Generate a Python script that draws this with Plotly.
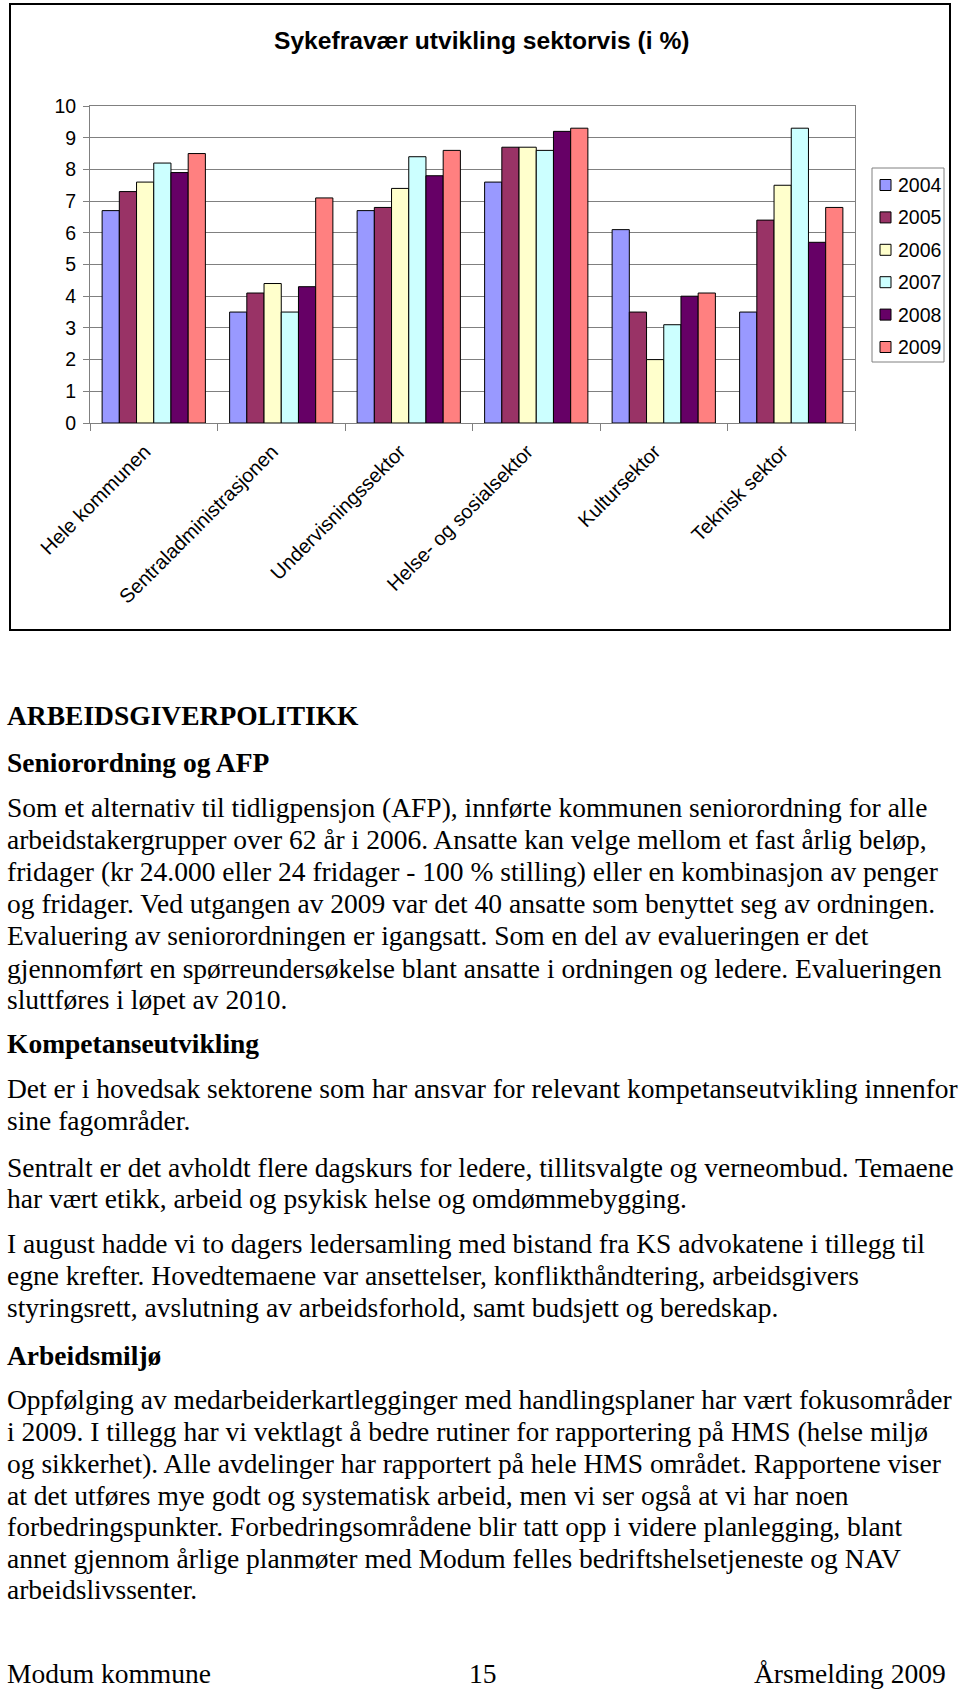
import plotly.graph_objects as go

# ---------------- data ----------------
categories = ["Hele kommunen", "Sentraladministrasjonen", "Undervisningssektor",
              "Helse- og sosialsektor", "Kultursektor", "Teknisk sektor"]
years = ["2004", "2005", "2006", "2007", "2008", "2009"]
v2004 = [6.7, 3.5, 6.7, 7.6, 6.1, 3.5]
v2005 = [7.3, 4.1, 6.8, 8.7, 3.5, 6.4]
v2006 = [7.6, 4.4, 7.4, 8.7, 2.0, 7.5]
v2007 = [8.2, 3.5, 8.4, 8.6, 3.1, 9.3]
v2008 = [7.9, 4.3, 7.8, 9.2, 4.0, 5.7]
v2009 = [8.5, 7.1, 8.6, 9.3, 4.1, 6.8]
series = [v2004, v2005, v2006, v2007, v2008, v2009]
y_ticks = list(range(0, 11))

chart_title = "Sykefravær utvikling sektorvis (i %)"

body_lines = [
    ("ARBEIDSGIVERPOLITIKK", True),
    ("Seniorordning og AFP", True),
    ("Som et alternativ til tidligpensjon (AFP), innførte kommunen seniorordning for alle", False),
    ("arbeidstakergrupper over 62 år i 2006. Ansatte kan velge mellom et fast årlig beløp,", False),
    ("fridager (kr 24.000 eller 24 fridager - 100 % stilling) eller en kombinasjon av penger", False),
    ("og fridager. Ved utgangen av 2009 var det 40 ansatte som benyttet seg av ordningen.", False),
    ("Evaluering av seniorordningen er igangsatt. Som en del av evalueringen er det", False),
    ("gjennomført en spørreundersøkelse blant ansatte i ordningen og ledere. Evalueringen", False),
    ("sluttføres i løpet av 2010.", False),
    ("Kompetanseutvikling", True),
    ("Det er i hovedsak sektorene som har ansvar for relevant kompetanseutvikling innenfor", False),
    ("sine fagområder.", False),
    ("Sentralt er det avholdt flere dagskurs for ledere, tillitsvalgte og verneombud. Temaene", False),
    ("har vært etikk, arbeid og psykisk helse og omdømmebygging.", False),
    ("I august hadde vi to dagers ledersamling med bistand fra KS advokatene i tillegg til", False),
    ("egne krefter. Hovedtemaene var ansettelser, konflikthåndtering, arbeidsgivers", False),
    ("styringsrett, avslutning av arbeidsforhold, samt budsjett og beredskap.", False),
    ("Arbeidsmiljø", True),
    ("Oppfølging av medarbeiderkartlegginger med handlingsplaner har vært fokusområder", False),
    ("i 2009. I tillegg har vi vektlagt å bedre rutiner for rapportering på HMS (helse miljø", False),
    ("og sikkerhet). Alle avdelinger har rapportert på hele HMS området. Rapportene viser", False),
    ("at det utføres mye godt og systematisk arbeid, men vi ser også at vi har noen", False),
    ("forbedringspunkter. Forbedringsområdene blir tatt opp i videre planlegging, blant", False),
    ("annet gjennom årlige planmøter med Modum felles bedriftshelsetjeneste og NAV", False),
    ("arbeidslivssenter.", False),
]
footer_left = "Modum kommune"
footer_mid = "15"
footer_right = "Årsmelding 2009"

# ---------------- styles / layout ----------------
colors = ["#9999FF", "#993366", "#FFFFCC", "#CCFFFF", "#660066", "#FF8080"]
line_y = [715, 762, 807, 839, 871, 903, 936, 968, 999,
          1043, 1088, 1120, 1167, 1198, 1243, 1275, 1307,
          1355, 1400, 1431, 1463, 1495, 1526, 1558, 1589]

W, H = 960, 1690
PL, PR, PT, PB = 90, 855, 106, 423


def xp(px):
    return (px - PL) / (PR - PL)


def yp(py):
    return (PB - py) / (PB - PT)


fig = go.Figure()
for yr, vals, col in zip(years, series, colors):
    fig.add_trace(go.Bar(
        x=categories, y=vals, name=yr,
        marker=dict(color=col, line=dict(color="black", width=1)),
        showlegend=False,
    ))

SANS = "Liberation Sans, Arial, sans-serif"
SERIF = "Liberation Serif, Times New Roman, serif"
BODY_SIZE = 27.5

fig.update_layout(
    template="none",
    width=W, height=H,
    margin=dict(l=PL, r=W - PR, t=PT, b=H - PB, pad=0),
    barmode="group", bargap=0.19, bargroupgap=0,
    plot_bgcolor="white", paper_bgcolor="white",
    font=dict(family=SANS, size=19, color="black"),
    showlegend=False,
)
fig.update_xaxes(
    type="category", showline=True, linecolor="#808080", linewidth=1, mirror=True,
    ticks="outside", ticklen=7, tickcolor="#808080", tickson="boundaries",
    tickangle=-45, showgrid=False, automargin=False,
    ticklabelshift=-9, ticklabelstandoff=8,
    tickfont=dict(family=SANS, size=20, color="black"),
)
fig.update_yaxes(
    range=[0, 10], tickvals=y_ticks, showline=True, linecolor="#808080", linewidth=1,
    mirror=True, ticks="outside", ticklen=6, tickcolor="#808080",
    showgrid=True, gridcolor="#808080", gridwidth=1, zeroline=False, automargin=False,
    ticklabelstandoff=3,
    tickfont=dict(family=SANS, size=19.5, color="black"),
)

shapes = []
annotations = []

# chart border
shapes.append(dict(type="rect", xref="paper", yref="paper",
                   x0=xp(10), x1=xp(950), y0=yp(630), y1=yp(4),
                   line=dict(color="black", width=2), fillcolor="rgba(0,0,0,0)", layer="below"))

# title
annotations.append(dict(text="<b>" + chart_title + "</b>", xref="paper", yref="paper",
                        x=xp(482), y=yp(41), xanchor="center", yanchor="middle",
                        showarrow=False, font=dict(family=SANS, size=24.6, color="black")))

# legend (manual)
LEG_X0, LEG_X1, LEG_Y0, LEG_Y1 = 872, 944, 168, 362
shapes.append(dict(type="rect", xref="paper", yref="paper",
                   x0=xp(LEG_X0), x1=xp(LEG_X1), y0=yp(LEG_Y1), y1=yp(LEG_Y0),
                   line=dict(color="#808080", width=1), fillcolor="white"))
for i, (yr, col) in enumerate(zip(years, colors)):
    cy = 185 + i * 32.4
    shapes.append(dict(type="rect", xref="paper", yref="paper",
                       x0=xp(880), x1=xp(891), y0=yp(cy + 5.5), y1=yp(cy - 5.5),
                       line=dict(color="black", width=1), fillcolor=col))
    annotations.append(dict(text=yr, xref="paper", yref="paper", x=xp(896), y=yp(cy),
                            xanchor="left", yanchor="middle", showarrow=False,
                            font=dict(family=SANS, size=19.5, color="black")))

# body text
for (txt, bold), ly in zip(body_lines, line_y):
    annotations.append(dict(text=("<b>" + txt + "</b>") if bold else txt,
                            xref="paper", yref="paper", x=xp(5), y=yp(ly),
                            xanchor="left", yanchor="middle", showarrow=False,
                            font=dict(family=SERIF, size=BODY_SIZE, color="black")))

# footer
FOOT_Y = 1673
annotations.append(dict(text=footer_left, xref="paper", yref="paper", x=xp(5), y=yp(FOOT_Y),
                        xanchor="left", yanchor="middle", showarrow=False,
                        font=dict(family=SERIF, size=BODY_SIZE, color="black")))
annotations.append(dict(text=footer_mid, xref="paper", yref="paper", x=xp(483), y=yp(FOOT_Y),
                        xanchor="center", yanchor="middle", showarrow=False,
                        font=dict(family=SERIF, size=BODY_SIZE, color="black")))
annotations.append(dict(text=footer_right, xref="paper", yref="paper", x=xp(948), y=yp(FOOT_Y),
                        xanchor="right", yanchor="middle", showarrow=False,
                        font=dict(family=SERIF, size=BODY_SIZE, color="black")))

fig.update_layout(shapes=shapes, annotations=annotations)
fig.write_html(
    "out.html",
    config={"displayModeBar": False},
    post_script="document.body.style.margin='0px';document.body.style.padding='0px';"
                "document.documentElement.style.overflow='hidden';",
)
